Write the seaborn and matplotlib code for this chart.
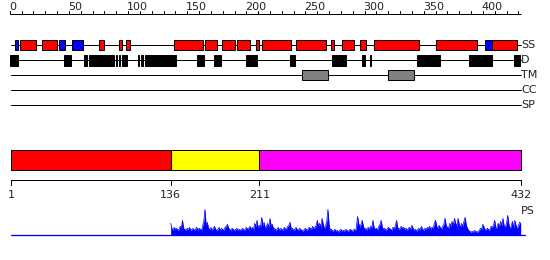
import numpy as np
import pandas as pd
import matplotlib
matplotlib.use("Agg")
import matplotlib.pyplot as plt
import seaborn as sns

# ---------------- data (residue ranges) ----------------
seq_len = 432
helix = [(9, 22), (27, 40), (75, 80), (92, 95), (98, 102), (139, 163), (165, 175),
         (179, 190), (192, 203), (208, 211), (213, 238), (242, 267), (272, 274),
         (281, 291), (296, 301), (308, 346), (360, 395), (408, 429)]
strand = [(4, 7), (42, 47), (53, 62), (402, 408)]
disorder = [(0.5, 7), (46, 51.5), (63, 65.5), (67, 83.5), (84, 88), (89.5, 91), (92, 93.5),
            (95, 99), (108, 109.3), (111, 112.3), (114, 140.5), (158, 164.5), (172.5, 178.5),
            (199.5, 209), (237, 241), (272.5, 284.5), (298, 300.5), (304.3, 305.7),
            (344.5, 353.5), (354.5, 364), (388, 407.5), (426.5, 431.5)]
transmem = [(247, 269), (320, 342)]
track_labels = ["SS", "D", "TM", "CC", "SP"]

domain_bounds = [1, 136, 211, 432]
domain_colors = ["#ff0000", "#ffff00", "#ff00ff"]
top_ticks = [0, 50, 100, 150, 200, 250, 300, 350, 400]

ps_start = 136
ps_values = [
    12, 7, 5, 8, 6, 7, 5, 6, 9, 8, 15, 7, 6, 5, 7, 6, 8, 5, 6, 7,
    5, 6, 8, 5, 7, 6, 5, 9, 14, 26, 10, 13, 7, 6, 8, 5, 7, 9, 6, 5,
    6, 8, 5, 7, 6, 5, 8, 9, 11, 7, 6, 5, 7, 6, 5, 6, 7, 5, 6, 5,
    6, 7, 5, 6, 8, 6, 7, 9, 6, 8, 5, 12, 9, 15, 7, 10, 8, 18, 10, 13,
    7, 9, 12, 8, 17, 9, 11, 6, 7, 5, 6, 8, 5, 7, 6, 5, 8, 6, 7, 9,
    10, 13, 6, 7, 5, 6, 8, 6, 5, 7, 6, 5, 4, 6, 7, 5, 6, 8, 7, 6,
    9, 7, 8, 10, 15, 9, 12, 8, 17, 11, 7, 9, 14, 26, 10, 5, 6, 4, 5, 6,
    4, 5, 3, 5, 6, 4, 5, 4, 6, 5, 4, 5, 6, 5, 4, 6, 5, 7, 19, 12,
    8, 11, 15, 9, 6, 7, 5, 8, 6, 9, 7, 15, 8, 6, 7, 5, 9, 11, 15, 8,
    6, 7, 5, 6, 8, 7, 6, 5, 8, 7, 9, 15, 8, 6, 7, 9, 7, 8, 6, 7,
    5, 7, 8, 6, 10, 7, 5, 6, 4, 6, 7, 5, 9, 6, 5, 7, 6, 8, 7, 9,
    6, 8, 7, 12, 15, 9, 7, 10, 8, 6, 9, 11, 17, 10, 8, 7, 12, 9, 14, 10,
    17, 12, 9, 17, 11, 8, 12, 9, 14, 18, 10, 7, 5, 4, 3, 4, 3, 5, 4, 3,
    4, 5, 7, 6, 11, 8, 5, 6, 7, 5, 6, 9, 8, 10, 15, 7, 8, 12, 9, 14,
    10, 17, 9, 8, 12, 20, 11, 7, 9, 14, 8, 15, 10, 7, 9, 13, 12,
]

# ---------------- layout ----------------
sns.set_theme(style="white")
plt.rcParams['font.family'] = ['DejaVu Sans']
W, H, DPI = 550, 260, 100
PX = 1.0 / 0.72  # points per pixel inverse
LW = 0.72        # one pixel line in points
scale = (520.7 - 11) / 431.0
x0 = 1 - 11 / scale
x1 = x0 + W / scale
FS = 8

fig = plt.figure(figsize=(W / DPI, H / DPI), dpi=DPI)
ax = fig.add_axes([0, 0, 1, 1])
ax.set_xlim(x0, x1)
ax.set_ylim(H, 0)
ax.set_axis_off()

# top ruler
ax.plot([0, seq_len], [14.3, 14.3], color="black", lw=LW, solid_capstyle="butt")
for t in range(0, seq_len + 1, 10):
    ax.plot([t, t], [14.3, 11], color="black", lw=LW)
for t in top_ticks:
    ax.text(t - 0.8, 6.5, str(t), ha="left", va="center", fontsize=FS, color="#222222")

# tracks
track_y = [45.3, 60.3, 75.3, 90.3, 105.3]
for y, lab in zip(track_y, track_labels):
    ax.plot([1, 432], [y, y], color="black", lw=LW, zorder=1)
    ax.text(432.5, y, lab, ha="left", va="center", fontsize=FS, color="#222222")


def boxes(ranges, yc, h, color, edge):
    starts = [a for a, b in ranges]
    widths = [b - a for a, b in ranges]
    ax.bar(starts, [h] * len(ranges), width=widths, bottom=yc - h / 2, align="edge",
           color=color, edgecolor=edge, linewidth=LW, zorder=3)


boxes(helix, track_y[0], 10, "#ff0000", "black")
boxes(strand, track_y[0], 10, "#0000ff", "black")
boxes(disorder, track_y[1], 10.5, "black", "black")
boxes(transmem, track_y[2], 10, "#808080", "black")

# domain bar
for i, c in enumerate(domain_colors):
    a = domain_bounds[i] if i == 0 else domain_bounds[i]
    b = domain_bounds[i + 1]
    ax.bar([a], [20], width=[b - a], bottom=150.3, align="edge", color=c,
           edgecolor="black", linewidth=LW, zorder=3)

# bottom ruler
ax.plot([1, 432], [180.3, 180.3], color="black", lw=LW)
for t in domain_bounds:
    ax.plot([t, t], [180.3, 184.5], color="black", lw=LW)
    ax.text(t, 195.5, str(t), ha="center", va="center", fontsize=FS, color="#222222")

ax.text(432.5, 211, "PS", ha="left", va="center", fontsize=FS, color="#222222")

# PS profile
ps = fig.add_axes([0, (H - 235.3) / H, 1, 30 / H])
ps.set_xlim(x0, x1)
ps.set_ylim(0, 30)
ps.set_axis_off()
res = np.arange(ps_start, ps_start + len(ps_values))
df = pd.DataFrame({"res": res, "score": ps_values})
ps.fill_between(df["res"], 0, df["score"], color="#0000ff", lw=0)
sns.lineplot(data=df, x="res", y="score", ax=ps, color="#0000ff", lw=0.5)
ps.plot([1, 436], [0, 0], color="#0000ff", lw=LW * 1.3, clip_on=False)
ps.set_axis_off()

fig.savefig("out.png", dpi=DPI)
